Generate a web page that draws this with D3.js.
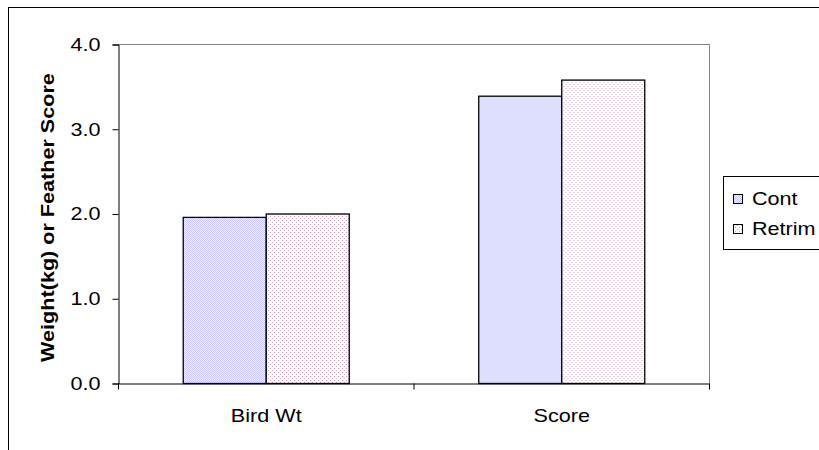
<!DOCTYPE html>
<html>
<head>
<meta charset="utf-8">
<script src="https://cdn.jsdelivr.net/npm/d3@7"></script>
<style>
  body { margin: 0; background: #fff; }
  svg { display: block; font-family: Arial, "Liberation Sans", sans-serif; }
</style>
</head>
<body>
<div id="chart"></div>
<script>
const categories = ["Bird Wt", "Score"];
const seriesNames = ["Cont", "Retrim"];
const contValues = [1.96, 3.39];
const retrimValues = [2.0, 3.58];
const yTicks = [0, 1, 2, 3, 4];

const width = 819;
const height = 450;
const margin = { top: 44, right: 110, bottom: 67, left: 118 };
const stretch = 1.2; // the source text is drawn wide

const svg = d3.select("#chart")
  .append("svg")
  .attr("width", width)
  .attr("height", height);

const defs = svg.append("defs");

// lavender mesh for Cont
const p1 = defs.append("pattern")
  .attr("id", "pat-cont")
  .attr("width", 2).attr("height", 2)
  .attr("patternUnits", "userSpaceOnUse");
p1.append("rect").attr("width", 2).attr("height", 2).attr("fill", "#f4f4ff");
p1.append("rect").attr("width", 1).attr("height", 1).attr("fill", "#c8c8ff");
p1.append("rect").attr("x", 1).attr("y", 1).attr("width", 1).attr("height", 1).attr("fill", "#c8c8ff");

// pink dots for Retrim
const p2 = defs.append("pattern")
  .attr("id", "pat-retrim")
  .attr("width", 4).attr("height", 4)
  .attr("patternUnits", "userSpaceOnUse");
p2.append("rect").attr("width", 4).attr("height", 4).attr("fill", "#fff");
p2.append("rect").attr("x", 0).attr("y", 0).attr("width", 1).attr("height", 1).attr("fill", "#e496c0");
p2.append("rect").attr("x", 2).attr("y", 2).attr("width", 1).attr("height", 1).attr("fill", "#c4b4bc");

const fills = ["url(#pat-cont)", "url(#pat-retrim)"];

// outer chart border (runs off the right and bottom edges)
svg.append("rect")
  .attr("x", 8.5).attr("y", 7.5)
  .attr("width", 830).attr("height", 460)
  .attr("fill", "none")
  .attr("stroke", "#000");

const x0 = d3.scaleBand()
  .domain(categories)
  .range([margin.left, width - margin.right]);

const x1 = d3.scaleBand()
  .domain(seriesNames)
  .range([0, x0.bandwidth()])
  .paddingOuter(0.78);

const y = d3.scaleLinear()
  .domain([0, 4])
  .range([height - margin.bottom, margin.top]);

// plot area border (gray top and right)
svg.append("path")
  .attr("d", `M${margin.left},${y(4) + 0.5}H${width - margin.right + 0.5}V${y(0)}`)
  .attr("fill", "none")
  .attr("stroke", "#808080");

const rows = categories.map((c, i) => ({ cat: c, vals: [contValues[i], retrimValues[i]] }));

svg.append("g")
  .selectAll("g")
  .data(rows)
  .join("g")
  .attr("transform", (d) => `translate(${x0(d.cat)},0)`)
  .selectAll("rect")
  .data((d) => d.vals.map((v, j) => ({ v, s: seriesNames[j], j })))
  .join("rect")
  .attr("x", (d) => x1(d.s) + 0.5)
  .attr("y", (d) => y(d.v) + 0.5)
  .attr("width", x1.bandwidth())
  .attr("height", (d) => y(0) - y(d.v))
  .attr("fill", (d) => fills[d.j])
  .attr("stroke", "#000")
  .attr("stroke-width", 1.3);

// y axis
const yAxis = svg.append("g")
  .attr("transform", `translate(${margin.left + 0.5},0.5)`)
  .call(d3.axisLeft(y).tickValues(yTicks).tickFormat(d3.format(".1f")).tickSize(6));
yAxis.select(".domain").attr("stroke", "#000");
yAxis.selectAll(".tick text")
  .attr("x", -15)
  .attr("font-size", 18)
  .attr("fill", "#000")
  .attr("font-family", "Arial, 'Liberation Sans', sans-serif")
  .attr("transform", `scale(${stretch},1)`);

// x axis
const xAxis = svg.append("g")
  .attr("transform", `translate(0.5,${y(0) + 0.5})`)
  .call(d3.axisBottom(x0).tickSize(0).tickPadding(26));
xAxis.select(".domain").attr("stroke", "#000");
xAxis.selectAll(".tick text")
  .attr("font-size", 18)
  .attr("fill", "#000")
  .attr("font-family", "Arial, 'Liberation Sans', sans-serif")
  .attr("transform", `scale(${stretch},1)`);

// category separator ticks
const sepTicks = [margin.left, x0(categories[1]), width - margin.right];
xAxis.selectAll("line.sep")
  .data(sepTicks)
  .join("line")
  .attr("class", "sep")
  .attr("x1", (d) => d).attr("x2", (d) => d)
  .attr("y1", 0).attr("y2", 6)
  .attr("stroke", "#000");

// y axis title
svg.append("text")
  .attr("transform", `translate(54,${(y(0) + y(4)) / 2 + 4}) rotate(-90) scale(${stretch},1)`)
  .attr("text-anchor", "middle")
  .attr("font-size", 18)
  .attr("font-weight", "bold")
  .text("Weight(kg) or Feather Score");

// legend
const legend = svg.append("g").attr("transform", "translate(723,176)");
legend.append("rect")
  .attr("x", 0.5).attr("y", 0.5)
  .attr("width", 120).attr("height", 73)
  .attr("fill", "#fff")
  .attr("stroke", "#000");

const items = legend.selectAll("g.item")
  .data(seriesNames)
  .join("g")
  .attr("class", "item")
  .attr("transform", (d, i) => `translate(10,${23 + i * 30})`);

items.append("rect")
  .attr("x", 0.5).attr("y", -4.5)
  .attr("width", 9).attr("height", 9)
  .attr("fill", (d, i) => fills[i])
  .attr("stroke", "#000");

items.append("text")
  .attr("transform", `translate(19,6) scale(${stretch},1)`)
  .attr("font-size", 18)
  .text((d) => d);
</script>
</body>
</html>
